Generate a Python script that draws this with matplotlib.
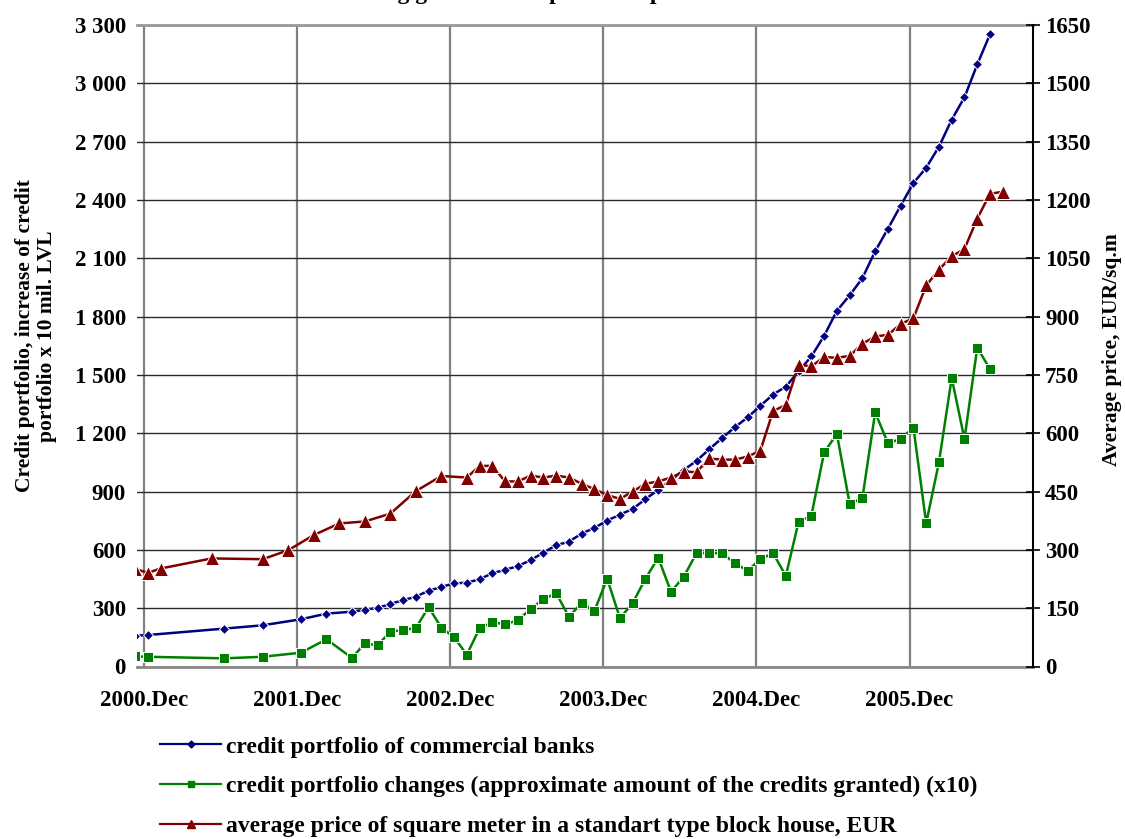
import matplotlib
matplotlib.use('Agg')
import matplotlib.pyplot as plt
from matplotlib.lines import Line2D
from matplotlib.ticker import FuncFormatter, MultipleLocator

plt.rcParams['font.family'] = ['Liberation Serif', 'DejaVu Serif']
plt.rcParams['font.weight'] = 'bold'

# months counted from 2000.Dec (0 = Dec 2000)
credit_months = [-1, 0, 6, 9, 12, 14] + list(range(16, 67))
credit_portfolio = [158, 162, 195, 212, 243, 272,
                    282, 292, 301, 322, 341, 359, 390, 409, 428, 431,
                    449, 480, 497, 517, 547, 586, 624, 642, 684, 713,
                    751, 781, 811, 861, 909, 960, 1011, 1058, 1118, 1175,
                    1231, 1281, 1341, 1399, 1440, 1518, 1595, 1701, 1830, 1909,
                    1998, 2136, 2252, 2371, 2487, 2566, 2674, 2813, 2928, 3097,
                    3252]
credit_changes_x10 = [52, 50, 42, 50, 71, 140,
                      44, 119, 109, 179, 188, 198, 305, 200, 150, 61,
                      197, 228, 217, 238, 296, 346, 377, 256, 327, 286,
                      452, 248, 327, 452, 560, 384, 462, 583, 583, 583,
                      531, 493, 552, 583, 466, 745, 776, 1101, 1197, 837,
                      866, 1307, 1149, 1170, 1229, 737, 1051, 1484, 1170, 1640,
                      1530]

price_months = [-1, 0, 1, 5, 9, 11, 13, 15, 17, 19, 21, 23, 25] + list(range(26, 68))
price_eur = [251, 241, 252, 278, 276, 299, 338, 368, 373, 393, 451, 490, 486,
             516, 516, 476, 476, 491, 486, 491, 486, 470, 456,
             441, 431, 450, 470, 476, 486, 501, 500, 535, 532,
             532, 540, 555, 657, 673, 776, 772, 796, 794, 799,
             830, 849, 853, 881, 896, 980, 1021, 1055, 1074, 1152,
             1216, 1221]

year_labels = ['2000.Dec', '2001.Dec', '2002.Dec', '2003.Dec', '2004.Dec', '2005.Dec']
legend_labels = ['credit portfolio of commercial banks',
                 'credit portfolio changes (approximate amount of the credits granted) (x10)',
                 'average price of square meter in a standart type block house, EUR']

blue = '#000080'
green = '#008000'
red = '#800000'

fig = plt.figure(figsize=(11.25, 8.39), dpi=100)
ax = fig.add_axes([137 / 1125, 1 - 666.5 / 839, 896 / 1125, 641.5 / 839])

ax.plot(credit_months, credit_portfolio, color=blue, lw=1.8, marker='D', ms=5.6,
        mec='white', mew=0.7)
ax.plot(credit_months, credit_changes_x10, color=green, lw=1.8, marker='s', ms=6.6,
        mec='white', mew=0.7)

tick_shift = -0.3
ax.set_xlim(-0.85, 69.37)
ax.set_xticks([tick_shift + 12 * i for i in range(len(year_labels))])
ax.set_xticklabels(year_labels)
ax.set_ylim(0, 3300)
ax.yaxis.set_major_locator(MultipleLocator(300))
ax.yaxis.set_major_formatter(FuncFormatter(lambda v, p: f'{v:,.0f}'.replace(',', ' ')))

ax.set_axisbelow(True)
ax.yaxis.grid(True, color='#2a2a2a', lw=1.0)
ax.xaxis.grid(True, color='#808080', lw=1.6)
ax.tick_params(axis='x', length=0, pad=17, labelsize=16.5)
ax.tick_params(axis='y', length=0, pad=8, labelsize=16.5)
for s in ['left', 'right']:
    ax.spines[s].set_visible(False)
ax.spines['top'].set_color('#999999')
ax.spines['top'].set_linewidth(2)
ax.spines['bottom'].set_color('#888888')
ax.spines['bottom'].set_linewidth(2)

ax2 = ax.twinx()
ax2.plot(price_months, price_eur, color=red, lw=1.8, marker='^', ms=10.5,
         mec='white', mew=0.7)
ax2.set_ylim(0, 1650)
ax2.yaxis.set_major_locator(MultipleLocator(150))
ax2.tick_params(axis='y', direction='inout', length=10, width=1.2, pad=3.6,
                labelsize=16.5, colors='black')
ax2.spines['right'].set_color('black')
ax2.spines['right'].set_linewidth(1.5)
for s in ['left', 'top', 'bottom']:
    ax2.spines[s].set_visible(False)

fig.text(36 / 1125, 1 - 336 / 839,
         'Credit portfolio, increase of credit\nportfolio x 10 mil. LVL',
         rotation=90, ha='center', va='center', multialignment='center',
         fontsize=15.5, linespacing=1.1)
fig.text(1112 / 1125, 1 - 350 / 839, 'Average price, EUR/sq.m',
         rotation=90, ha='center', va='center', fontsize=15.5)

# title is cut off at the top of the original picture, only its lowest part shows
fig.text(0.46, 1 + 1 / 839, 'Lending growth and apartment prices',
         ha='center', va='baseline', fontsize=17)

handles = [Line2D([], [], color=blue, lw=1.6, marker='D', ms=3.5),
           Line2D([], [], color=green, lw=1.6, marker='s', ms=4),
           Line2D([], [], color=red, lw=1.6, marker='^', ms=6)]
fig.legend(handles, legend_labels, loc='upper left',
           bbox_to_anchor=(160 / 1125, 1 - 736 / 839), frameon=False,
           fontsize=17, handlelength=2.6, handletextpad=0.2, labelspacing=0.78,
           borderpad=0, borderaxespad=0, numpoints=1)

fig.savefig('out.png', dpi=100)
